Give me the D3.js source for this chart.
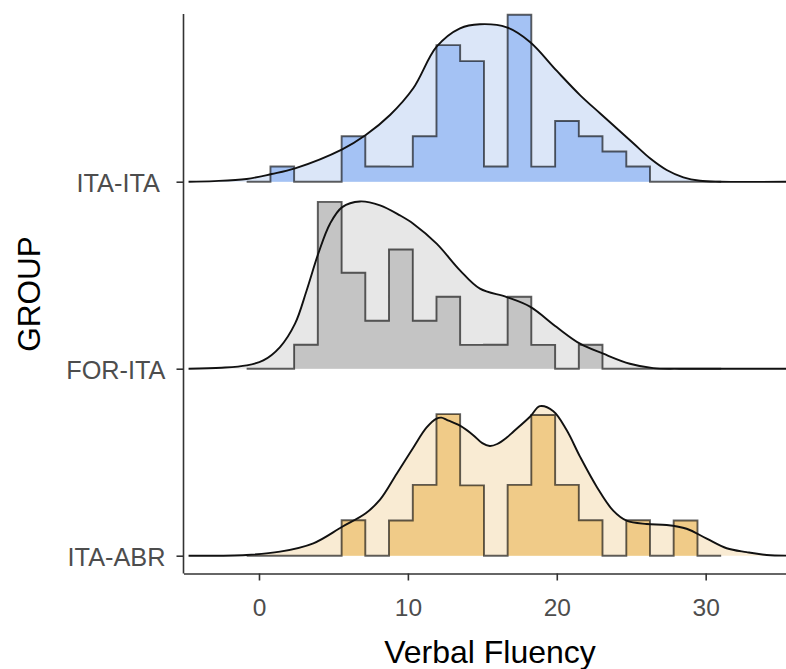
<!DOCTYPE html>
<html>
<head>
<meta charset="utf-8">
<script src="https://cdn.jsdelivr.net/npm/d3@7"></script>
<style>
  body { margin: 0; background: #fff; }
  svg { display: block; }
  text { font-family: "Liberation Sans", Arial, Helvetica, sans-serif; }
</style>
</head>
<body>
<svg id="chart" width="786" height="669"></svg>
<script>
// ---------------- DATA ----------------
const groups = ["ITA-ABR", "FOR-ITA", "ITA-ITA"];
const groupTickLabels = ["ITA-ABR", "FOR-ITA", "ITA-ITA "];
const xTicks = [0, 10, 20, 30];
const xTitle = "Verbal Fluency";
const yTitle = "GROUP";

// shared histogram bin edges (Verbal Fluency units)
const binEdges = [-0.83, 0.77, 2.36, 3.95, 5.55, 7.14, 8.73, 10.33, 11.92, 13.51, 15.11,
                  16.70, 18.29, 19.89, 21.48, 23.07, 24.67, 26.26, 27.85, 29.45, 31.04];

// histogram counts per bin
const countsITAITA = [0, 1, 0, 0, 3, 1, 1, 3, 9, 8, 1, 11, 1, 4, 3, 2, 1, 0, 0, 0];
const countsFORITA = [0, 0, 1, 7, 4, 2, 5, 2, 3, 1, 1, 3, 1, 0, 1, 0, 0, 0, 0, 0];
const countsITAABR = [0, 0, 0, 0, 1, 0, 1, 2, 4, 2, 0, 2, 4, 2, 1, 0, 1, 0, 1, 0];

// kernel density curves (x, density)
const densXITAITA = [-4.73, -3.0, -0.83, 0.85, 2.42, 5.59, 7.17, 8.80, 10.36, 11.93, 13.50, 14.84,
                     16.64, 18.20, 19.99, 21.56, 22.90, 24.02, 25.14, 26.26, 27.38, 28.50, 29.62, 30.96, 36.1];
const densYITAITA = [0, 0.0005, 0.0023, 0.0065, 0.0113, 0.0274, 0.0395, 0.0564, 0.0790, 0.1142, 0.1298, 0.1332,
                     0.1306, 0.1182, 0.0939, 0.0733, 0.0579, 0.0452, 0.0325, 0.0198, 0.0099, 0.0037, 0.0008, 0, 0];

const densXFORITA = [-4.73, -2.5, -0.83, 0.29, 1.41, 2.42, 3.20, 3.98, 4.77, 5.59, 6.78, 8.13, 9.47, 10.36,
                     11.93, 13.50, 14.84, 16.64, 18.20, 19.99, 21.56, 23.12, 24.91, 26.48, 28.27, 36.1];
const densYFORITA = [0, 0.0008, 0.0028, 0.0070, 0.0183, 0.0381, 0.0662, 0.0973, 0.1227, 0.1367, 0.1415, 0.1382, 0.1297, 0.1227,
                     0.1058, 0.0832, 0.0677, 0.0606, 0.0525, 0.0352, 0.0212, 0.0127, 0.0042, 0.0005, 0, 0];

const densXITAABR = [-4.73, -0.83, 1.41, 3.65, 5.59, 7.17, 8.13, 9.25, 10.36, 11.26, 11.93, 12.25, 12.61, 13.50, 14.39,
                     15.00, 15.50, 16.00, 16.64, 17.08, 18.20, 18.87, 19.77, 20.66, 21.56, 22.68, 23.79, 24.69, 26.04, 27.38,
                     28.72, 30.07, 31.41, 32.75, 34.10, 36.1];
const densYITAABR = [0, 0.0006, 0.0034, 0.0105, 0.0245, 0.0359, 0.0474, 0.0694, 0.0914, 0.1085, 0.1160, 0.1168, 0.1150, 0.1100, 0.1020,
                     0.0952, 0.0928, 0.0945, 0.1000, 0.1049, 0.1176, 0.1265, 0.1222, 0.1063, 0.0838, 0.0584, 0.0381, 0.0296, 0.0268, 0.0260,
                     0.0228, 0.0144, 0.0063, 0.0030, 0.0006, 0];

// ---------------- BUILD ----------------
const series = {
  "ITA-ITA": { counts: countsITAITA, dx: densXITAITA, dy: densYITAITA, hist: "#a4c2f4", dens: "#dbe6f8" },
  "FOR-ITA": { counts: countsFORITA, dx: densXFORITA, dy: densYFORITA, hist: "#c4c4c4", dens: "#e7e7e7" },
  "ITA-ABR": { counts: countsITAABR, dx: densXITAABR, dy: densYITAABR, hist: "#f0cb88", dens: "#f9ebd3" }
};

const svg = d3.select("#chart");
const panel = { left: 183.5, right: 796.5, top: 14, bottom: 573.5 };

const x = d3.scaleLinear().domain([-5.07, 36.1]).range([panel.left, panel.right]);
const y = d3.scalePoint().domain(groups).range([555.7, 181.7]);
const h = d3.scaleLinear().domain([0, 0.1]).range([0, 118.2]);

const smooth = d3.curveCatmullRom.alpha(0.5);

const drawOrder = ["ITA-ITA", "FOR-ITA", "ITA-ABR"];
drawOrder.forEach(g => {
  const s = series[g];
  const base = y(g);
  const n = d3.sum(s.counts);
  const dens = s.dx.map((v, i) => ({ x: v, d: s.dy[i] }));
  const bins = s.counts.map((c, i) => ({ x: binEdges[i], d: c / (n * (binEdges[i + 1] - binEdges[i])) }));
  bins.push({ x: binEdges[binEdges.length - 1], d: bins[bins.length - 1].d });

  const gg = svg.append("g");

  // density fill
  gg.append("path")
    .attr("d", d3.area().x(p => x(p.x)).y0(base).y1(p => base - h(p.d)).curve(smooth)(dens))
    .attr("fill", s.dens);

  // histogram fill
  gg.append("path")
    .attr("d", d3.area().x(p => x(p.x)).y0(base).y1(p => base - h(p.d)).curve(d3.curveStepAfter)(bins))
    .attr("fill", s.hist);

  // histogram outline
  gg.append("path")
    .attr("d", d3.line().x(p => x(p.x)).y(p => base - h(p.d)).curve(d3.curveStepAfter)(bins))
    .attr("fill", "none")
    .attr("stroke", "#000")
    .attr("stroke-opacity", 0.62)
    .attr("stroke-width", 1.9);

  // density line
  gg.append("path")
    .attr("d", d3.line().x(p => x(p.x)).y(p => base - h(p.d)).curve(smooth)(dens))
    .attr("fill", "none")
    .attr("stroke", "#111")
    .attr("stroke-width", 1.9);
});

// axes
const axisColor = "#333";
const xAxis = svg.append("g")
  .attr("transform", `translate(0,${panel.bottom})`)
  .call(d3.axisBottom(x).tickValues(xTicks).tickSize(7).tickPadding(5).tickSizeOuter(0));
xAxis.select(".domain").attr("stroke", axisColor).attr("stroke-width", 1.6);
xAxis.selectAll(".tick line").attr("stroke", axisColor).attr("stroke-width", 1.6);
xAxis.selectAll(".tick text")
  .attr("font-size", 24.5).attr("fill", "#4d4d4d")
  .attr("font-family", "Liberation Sans, Arial, sans-serif")
  .attr("dy", null).attr("y", 42.5);

const yAxis = svg.append("g")
  .attr("transform", `translate(${panel.left},0)`)
  .call(d3.axisLeft(y).tickSize(7).tickPadding(11)
        .tickFormat(d => groupTickLabels[groups.indexOf(d)]));
yAxis.select(".domain").remove();
yAxis.append("line")
  .attr("x1", 0).attr("x2", 0).attr("y1", panel.top).attr("y2", panel.bottom)
  .attr("stroke", axisColor).attr("stroke-width", 1.6);
yAxis.selectAll(".tick line").attr("stroke", axisColor).attr("stroke-width", 1.6);
yAxis.selectAll(".tick text")
  .attr("font-size", 25.3).attr("fill", "#4d4d4d")
  .attr("font-family", "Liberation Sans, Arial, sans-serif")
  .style("white-space", "pre")
  .attr("dy", "0.4em");

// titles
svg.append("text")
  .attr("x", 490).attr("y", 663)
  .attr("text-anchor", "middle")
  .attr("font-size", 32).attr("fill", "#000")
  .text(xTitle);

svg.append("text")
  .attr("transform", "translate(40,294) rotate(-90)")
  .attr("text-anchor", "middle")
  .attr("font-size", 31.5).attr("fill", "#000")
  .text(yTitle);
</script>
</body>
</html>
